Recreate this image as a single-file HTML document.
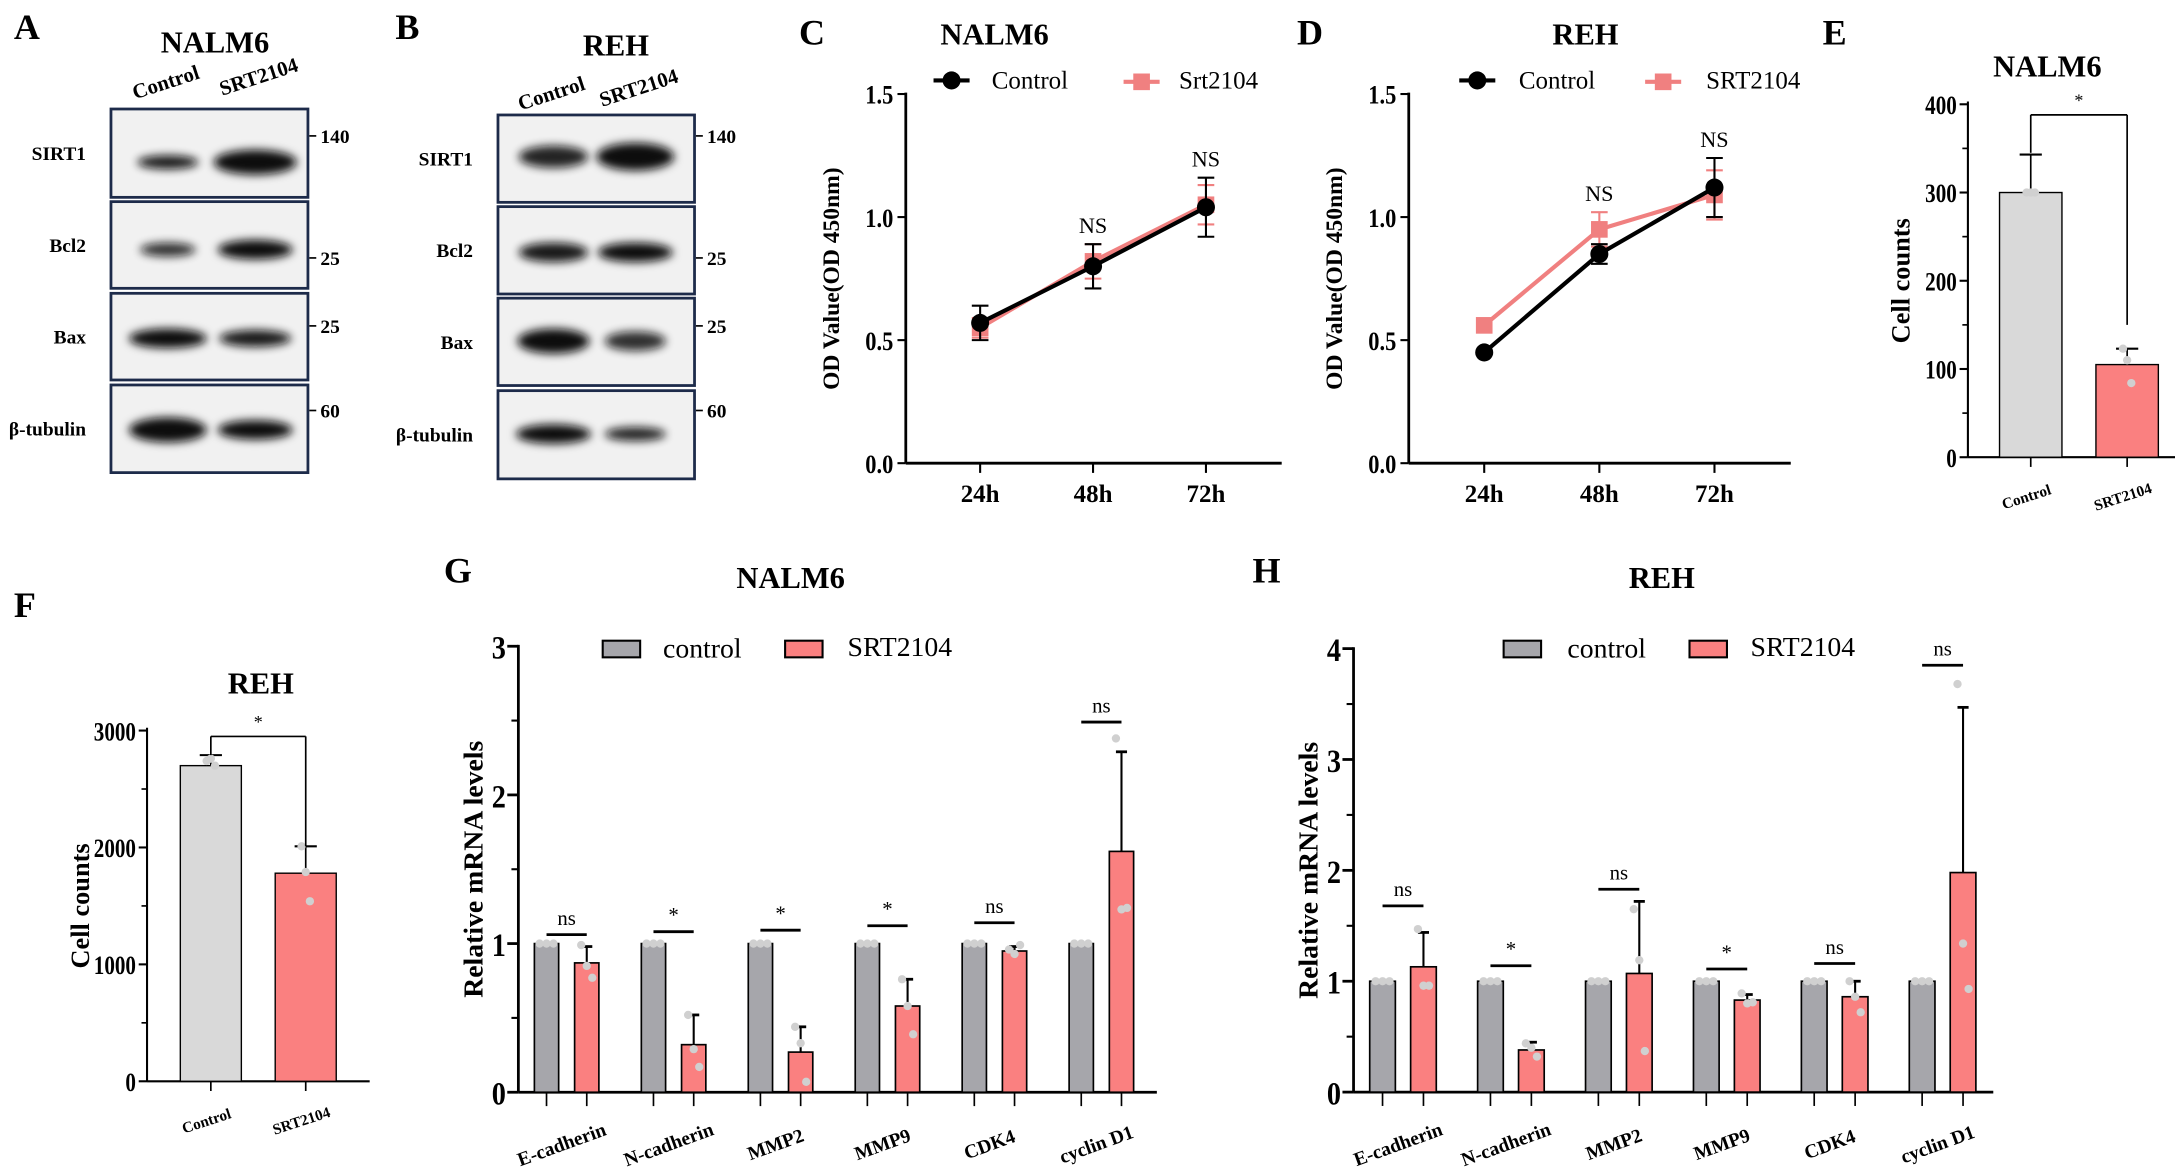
<!DOCTYPE html>
<html><head><meta charset="utf-8">
<style>
html,body{margin:0;padding:0;background:#fff;}
svg{display:block;}
text{font-family:"Liberation Serif",serif;}
</style></head>
<body>
<svg id="fig" width="2175" height="1176" viewBox="0 0 1568 848" preserveAspectRatio="none" xmlns="http://www.w3.org/2000/svg">
<defs>
<filter id="blur" x="-50%" y="-100%" width="200%" height="300%"><feGaussianBlur stdDeviation="3.2"/></filter>
</defs>
</svg>
<script>
// ---------- data ----------
const timeCats = ['24h','48h','72h'];
const cNalmControl = [0.57, 0.80, 1.04];
const cNalmControlErr = [0.07, 0.09, 0.12];
const cNalmSrt = [0.55, 0.82, 1.05];
const cNalmSrtErr = [0.04, 0.07, 0.08];
const dRehControl = [0.45, 0.85, 1.12];
const dRehControlErr = [0.0, 0.04, 0.12];
const dRehSrt = [0.56, 0.95, 1.09];
const dRehSrtErr = [0.0, 0.07, 0.10];
const odTicks = [0, 0.5, 1.0, 1.5];
const odTickLabels = ['0.0','0.5','1.0','1.5'];

const countCats = ['Control','SRT2104'];
const eNalmCounts = [300, 105];
const eNalmErrTop = [343, 123];
const eNalmDots = [[300, 300, 300],[123, 110, 84]];
const eTicks = [0,100,200,300,400];
const fRehCounts = [2700, 1780];
const fRehErrTop = [2790, 2010];
const fRehDots = [[2740, 2760, 2700],[2010, 1790, 1540]];
const fTicks = [0,1000,2000,3000];

const genes = ['E-cadherin','N-cadherin','MMP2','MMP9','CDK4','cyclin D1'];
const gControl = [1,1,1,1,1,1];
const gSrt = [0.87, 0.32, 0.27, 0.58, 0.95, 1.62];
const gSrtErrTop = [0.98, 0.52, 0.44, 0.76, 0.98, 2.29];
const gSrtDots = [[0.99,0.85,0.77],[0.52,0.29,0.17],[0.44,0.33,0.07],[0.76,0.58,0.39],[0.96,0.93,0.99],[2.38,1.23,1.24]];
const gSig = ['ns','*','*','*','ns','ns'];
const gSigLevel = [1.06,1.08,1.09,1.12,1.14,2.49];
const gTicks = [0,1,2,3];
const hControl = [1,1,1,1,1,1];
const hSrt = [1.13, 0.38, 1.07, 0.83, 0.86, 1.98];
const hSrtErrTop = [1.44, 0.45, 1.72, 0.88, 1.0, 3.47];
const hSrtDots = [[1.47,0.96,0.96],[0.44,0.40,0.32],[1.65,1.19,0.37],[0.89,0.80,0.81],[1.0,0.86,0.72],[3.68,1.34,0.93]];
const hSig = ['ns','*','ns','*','ns','ns'];
const hSigLevel = [1.68,1.14,1.83,1.11,1.16,3.85];
const hTicks = [0,1,2,3,4];

// ---------- helpers ----------
const svg = document.getElementById('fig');
const NS = 'http://www.w3.org/2000/svg';
function mk(tag, attrs, name, parent){
  const el = document.createElementNS(NS, tag);
  for (const k in attrs) el.setAttribute(k, attrs[k]);
  
  
  (parent || svg).appendChild(el);
  return el;
}
function txt(x, y, s, size, name, opts){
  opts = opts || {};
  const a = {x:x, y:y, 'font-size':size, 'text-anchor':opts.anchor||'middle', fill:opts.fill||'#000'};
  if (opts.bold !== false) a['font-weight'] = 'bold';
  if (opts.rot !== undefined) a.transform = 'rotate(' + opts.rot + ' ' + x + ' ' + y + ')';
  if (opts.family) a['font-family'] = opts.family;
  if (opts.sx) a.transform = (a.transform||'') + ' translate(' + x + ' ' + y + ') scale(' + opts.sx + ' 1) translate(' + (-x) + ' ' + (-y) + ')';
  const t = mk('text', a, name);
  t.textContent = s;
  return t;
}
function line(x1,y1,x2,y2,name,stroke,w){
  return mk('line',{x1:x1,y1:y1,x2:x2,y2:y2,stroke:stroke||'#000','stroke-width':w||1.5},name);
}

// ---------- panel letters ----------
[['A',10,28],['B',285,28],['C',576,32],['D',935,32],['E',1314,32],['F',10,445],['G',320,420],['H',903,420]].forEach(p=>{
  txt(p[1],p[2],p[0],26,'panel-label-'+p[0].toLowerCase(),{anchor:'start'});
});

// ---------- Western blots ----------
function blot(cfg){
  txt(cfg.titleX, cfg.titleY, cfg.title, 22, cfg.id+'-title');
  txt(cfg.lane1, cfg.laneY, 'Control', 15, cfg.id+'-lane-control', {rot:-18});
  txt(cfg.lane2+4, cfg.laneY-4, 'SRT2104', 15, cfg.id+'-lane-srt2104', {rot:-18});
  cfg.rows.forEach((r,i)=>{
    const g = mk('g',{},cfg.id+'-blot-'+r.name.replace(/[^a-z0-9]/gi,'').toLowerCase());
    mk('rect',{x:cfg.x0,y:r.y0,width:cfg.x1-cfg.x0,height:r.y1-r.y0,fill:'#f1f1f1',stroke:'#1d2b4a','stroke-width':2},'blot-frame',g);
    const cy = r.band;
    [[cfg.lane1,r.w1,r.h1,r.o1],[cfg.lane2,r.w2,r.h2,r.o2]].forEach((b,j)=>{
      mk('ellipse',{cx:b[0],cy:cy,rx:b[1],ry:b[2],fill:'#111',opacity:b[3],filter:'url(#blur)'},'band-lane-'+(j+1),g);
    });
    txt(cfg.x0-18, (r.y0+r.y1)/2+5, r.name, 14, cfg.id+'-label-'+i, {anchor:'end'});
    if (r.mw){
      line(cfg.x1+1, r.mwY, cfg.x1+6, r.mwY, 'mw-tick', '#000', 1.2);
      txt(cfg.x1+9, r.mwY+5, r.mw, 14, cfg.id+'-mw-'+i, {anchor:'start'});
    }
  });
}
blot({id:'nalm6-wb', title:'NALM6', titleX:155, titleY:38, lane1:121, lane2:184, laneY:64, x0:80, x1:222,
  rows:[
    {name:'SIRT1', y0:78.6, y1:142.3, band:117, w1:22,h1:5,o1:0.95, w2:30,h2:9,o2:1, mw:'140', mwY:98},
    {name:'Bcl2', y0:145.4, y1:207.9, band:180, w1:20,h1:5,o1:0.85, w2:27,h2:7,o2:1, mw:'25', mwY:186},
    {name:'Bax', y0:211.5, y1:274, band:244, w1:28,h1:7,o1:1, w2:26,h2:6,o2:0.95, mw:'25', mwY:235},
    {name:'β-tubulin', y0:277.6, y1:340.8, band:310, w1:28,h1:9,o1:1, w2:27,h2:7,o2:1, mw:'60', mwY:296}
  ]});
blot({id:'reh-wb', title:'REH', titleX:444, titleY:40, lane1:399, lane2:458, laneY:72, x0:359, x1:500.7,
  rows:[
    {name:'SIRT1', y0:82.9, y1:145.9, band:113, w1:25,h1:8,o1:0.9, w2:28,h2:10,o2:1, mw:'140', mwY:98},
    {name:'Bcl2', y0:149, y1:212, band:182, w1:25,h1:7,o1:0.95, w2:27,h2:7,o2:1, mw:'25', mwY:186},
    {name:'Bax', y0:215, y1:278, band:246, w1:26,h1:9,o1:1, w2:22,h2:7,o2:0.85, mw:'25', mwY:235},
    {name:'β-tubulin', y0:281.7, y1:345.3, band:313, w1:27,h1:7,o1:1, w2:22,h2:5,o2:0.9, mw:'60', mwY:296}
  ]});

// ---------- Line charts C/D ----------
function lineChart(cfg){
  const yPix = v => cfg.yb - (v/1.5)*(cfg.yb-cfg.yt);
  const xPix = i => cfg.xc[0] + i*(cfg.xc[1]-cfg.xc[0]);
  txt(cfg.titleX, 32, cfg.title, 22, cfg.id+'-title');
  line(cfg.ax, cfg.yt-1, cfg.ax, cfg.yb, cfg.id+'-y-axis','#000',2);
  line(cfg.ax, cfg.yb, cfg.axEnd, cfg.yb, cfg.id+'-x-axis','#000',2);
  odTicks.forEach((t,i)=>{
    const y = yPix(t);
    line(cfg.ax-6, y, cfg.ax, y, 'y-tick','#000',1.5);
    txt(cfg.ax-9, y+7, odTickLabels[i], 19, cfg.id+'-y-tick-label', {anchor:'end', sx:0.85});
  });
  timeCats.forEach((c,i)=>{
    const x = xPix(i);
    line(x, cfg.yb, x, cfg.yb+7, 'x-tick','#000',1.5);
    txt(x, cfg.yb+28, c, 18, cfg.id+'-x-label-'+c);
  });
  txt(cfg.ax-48, (cfg.yt+cfg.yb)/2, 'OD Value(OD 450nm)', 17, cfg.id+'-y-axis-title', {rot:-90});
  const series = [
    {vals:cfg.srt, err:cfg.srtErr, col:'#f08080', name:'srt2104'},
    {vals:cfg.ctl, err:cfg.ctlErr, col:'#000', name:'control'}
  ];
  series.forEach(s=>{
    const pts = s.vals.map((v,i)=>xPix(i)+','+yPix(v)).join(' ');
    mk('polyline',{points:pts,fill:'none',stroke:s.col,'stroke-width':3},cfg.id+'-line-'+s.name);
    s.vals.forEach((v,i)=>{
      const x = xPix(i);
      if (s.err[i] > 0){
        line(x, yPix(v+s.err[i]), x, yPix(v-s.err[i]), cfg.id+'-errbar-'+s.name, s.col, 1.5);
        line(x-6, yPix(v+s.err[i]), x+6, yPix(v+s.err[i]), cfg.id+'-errcap-'+s.name, s.col, 1.5);
        line(x-6, yPix(v-s.err[i]), x+6, yPix(v-s.err[i]), cfg.id+'-errcap-'+s.name, s.col, 1.5);
      }
      if (s.name === 'control') mk('circle',{cx:x,cy:yPix(v),r:6.5,fill:'#000'},cfg.id+'-point-control');
      else mk('rect',{x:x-6,y:yPix(v)-6,width:12,height:12,fill:'#f08080'},cfg.id+'-point-srt2104');
    });
  });
  cfg.ns.forEach(i=>{
    const top = Math.max(cfg.ctl[i]+cfg.ctlErr[i], cfg.srt[i]+cfg.srtErr[i]);
    txt(xPix(i), yPix(top)-8, 'NS', 16, cfg.id+'-ns-label', {bold:false});
  });
  line(cfg.lg[0]-13, 58, cfg.lg[0]+13, 58, cfg.id+'-legend-control-line','#000',3);
  mk('circle',{cx:cfg.lg[0],cy:58,r:6.5,fill:'#000'},cfg.id+'-legend-control-marker');
  txt(cfg.lg[1], 64, 'Control', 18, cfg.id+'-legend-control-text', {anchor:'start', bold:false});
  line(cfg.lg[2]-13, 59, cfg.lg[2]+13, 59, cfg.id+'-legend-srt-line','#f08080',3);
  mk('rect',{x:cfg.lg[2]-6,y:53,width:12,height:12,fill:'#f08080'},cfg.id+'-legend-srt-marker');
  txt(cfg.lg[3], 64, cfg.srtLabel, 18, cfg.id+'-legend-srt-text', {anchor:'start', bold:false});
}
lineChart({id:'c-nalm6', title:'NALM6', titleX:717, ax:653, axEnd:924, yt:67.8, yb:334, xc:[706.6,788],
  ctl:cNalmControl, ctlErr:cNalmControlErr, srt:cNalmSrt, srtErr:cNalmSrtErr, ns:[1,2],
  lg:[686,715,823,850], srtLabel:'Srt2104'});
lineChart({id:'d-reh', title:'REH', titleX:1143, ax:1015.6, axEnd:1291, yt:67.8, yb:334, xc:[1070,1153],
  ctl:dRehControl, ctlErr:dRehControlErr, srt:dRehSrt, srtErr:dRehSrtErr, ns:[1,2],
  lg:[1065,1095,1199,1230], srtLabel:'SRT2104'});

// ---------- Cell count bars E/F ----------
function countChart(cfg){
  const yPix = v => cfg.yb - (v/cfg.max)*(cfg.yb-cfg.yt);
  txt(cfg.titleX, cfg.titleY, cfg.title, 22, cfg.id+'-title');
  line(cfg.ax, cfg.yt-2, cfg.ax, cfg.yb, cfg.id+'-y-axis','#000',1.5);
  line(cfg.ax, cfg.yb, cfg.axEnd, cfg.yb, cfg.id+'-x-axis','#000',1.5);
  cfg.ticks.forEach((t,i)=>{
    const y = yPix(t);
    line(cfg.ax-6, y, cfg.ax, y, 'y-tick','#000',1.5);
    txt(cfg.ax-8, y+7, String(t), 19, cfg.id+'-y-tick-label', {anchor:'end', family:'"Liberation Sans",sans-serif', sx:0.8});
    if (i < cfg.ticks.length-1){ const ym = yPix(t + (cfg.ticks[1]-cfg.ticks[0])/2); line(cfg.ax-4, ym, cfg.ax, ym, 'y-minor-tick','#000',1.2); }
  });
  txt(cfg.ax-42, (cfg.yt+cfg.yb)/2, 'Cell counts', 19, cfg.id+'-y-axis-title', {rot:-90, family:'"Liberation Sans",sans-serif'});
  const cols = ['#d9d9d9','#fa8080'];
  cfg.vals.forEach((v,i)=>{
    const cx = cfg.xc[i];
    mk('rect',{x:cx-cfg.bw/2,y:yPix(v),width:cfg.bw,height:cfg.yb-yPix(v),fill:cols[i],stroke:'#000','stroke-width':1},cfg.id+'-bar-'+countCats[i].toLowerCase());
    line(cx, yPix(v), cx, yPix(cfg.err[i]), cfg.id+'-errbar','#000',1.2);
    line(cx-8, yPix(cfg.err[i]), cx+8, yPix(cfg.err[i]), cfg.id+'-errcap','#000',1.5);
    cfg.dots[i].forEach((d,k)=>mk('circle',{cx:cx+(k-1)*3,cy:yPix(d),r:3,fill:'#d0d0d0'},cfg.id+'-dot'));
    line(cx, cfg.yb, cx, cfg.yb+7, 'x-tick','#000',1.2);
    txt(cx-2, cfg.yb+32, countCats[i], 11, cfg.id+'-x-label-'+countCats[i].toLowerCase(), {rot:-18});
  });
  const by = yPix(cfg.bracket);
  line(cfg.xc[0], by, cfg.xc[1], by, cfg.id+'-sig-bracket','#000',1.2);
  line(cfg.xc[0], by, cfg.xc[0], yPix(cfg.legL), cfg.id+'-sig-bracket-left','#000',1.2);
  line(cfg.xc[1], by, cfg.xc[1], yPix(cfg.legR), cfg.id+'-sig-bracket-right','#000',1.2);
  txt((cfg.xc[0]+cfg.xc[1])/2, by-6, '*', 13, cfg.id+'-sig-star', {bold:false});
}
countChart({id:'e-nalm6', title:'NALM6', titleX:1476, titleY:55, ax:1418.7, axEnd:1568, yt:75.2, yb:329.7, max:400,
  ticks:eTicks, vals:eNalmCounts, err:eNalmErrTop, dots:eNalmDots, xc:[1464,1533.5], bw:45, bracket:388, legL:345, legR:150});
countChart({id:'f-reh', title:'REH', titleX:188, titleY:500, ax:106, axEnd:266.5, yt:526.8, yb:779.7, max:3000,
  ticks:fTicks, vals:fRehCounts, err:fRehErrTop, dots:fRehDots, xc:[152,220.4], bw:44, bracket:2950, legL:2790, legR:2010});

// ---------- Gene bar charts G/H ----------
function geneChart(cfg){
  const yPix = v => cfg.yb - (v/cfg.max)*(cfg.yb-cfg.yt);
  txt(cfg.titleX, 424, cfg.title, 22, cfg.id+'-title');
  line(cfg.ax, cfg.yt-1, cfg.ax, cfg.yb, cfg.id+'-y-axis','#000',2);
  line(cfg.ax, cfg.yb, cfg.axEnd, cfg.yb, cfg.id+'-x-axis','#000',2);
  cfg.ticks.forEach((t,i)=>{
    const y = yPix(t);
    line(cfg.ax-8, y, cfg.ax, y, 'y-tick','#000',2);
    txt(cfg.ax-9, y+9, String(t), 24, cfg.id+'-y-tick-label', {anchor:'end', family:'"Liberation Sans",sans-serif', sx:0.85});
    if (i < cfg.ticks.length-1){ const ym = yPix(t+0.5); line(cfg.ax-5, ym, cfg.ax, ym, 'y-minor-tick','#000',1.5); }
  });
  txt(cfg.ax-26, (cfg.yt+cfg.yb)/2, 'Relative mRNA levels', 20, cfg.id+'-y-axis-title', {rot:-90, family:'"Liberation Sans",sans-serif'});
  genes.forEach((g,i)=>{
    const xc = cfg.c0 + i*cfg.sp, xs = xc + cfg.gap;
    mk('rect',{x:xc-cfg.bw/2,y:yPix(cfg.ctl[i]),width:cfg.bw,height:cfg.yb-yPix(cfg.ctl[i]),fill:'#a6a6ab',stroke:'#000','stroke-width':1.2},cfg.id+'-bar-control-'+i);
    mk('rect',{x:xs-cfg.bw/2,y:yPix(cfg.srt[i]),width:cfg.bw,height:cfg.yb-yPix(cfg.srt[i]),fill:'#fa8080',stroke:'#000','stroke-width':1.2},cfg.id+'-bar-srt2104-'+i);
    line(xs, yPix(cfg.srt[i]), xs, yPix(cfg.err[i]), cfg.id+'-errbar','#000',1.5);
    line(xs-4, yPix(cfg.err[i]), xs+4, yPix(cfg.err[i]), cfg.id+'-errcap','#000',2);
    [-5,0,5].forEach(dx=>mk('circle',{cx:xc+dx,cy:yPix(cfg.ctl[i]),r:3,fill:'#d0d0d0'},cfg.id+'-dot-control'));
    cfg.dots[i].forEach((d,k)=>mk('circle',{cx:xs+(k-1)*4,cy:yPix(d),r:3,fill:'#d0d0d0'},cfg.id+'-dot-srt2104'));
    line(xc, cfg.yb, xc, cfg.yb+10, 'x-tick','#000',1.2);
    line(xs, cfg.yb, xs, cfg.yb+10, 'x-tick','#000',1.2);
    txt((xc+xs)/2-2, cfg.yb+42, g, 14, cfg.id+'-x-label-'+i, {rot:-20});
    const sy = yPix(cfg.sigL[i]);
    line(xc, sy, xs, sy, cfg.id+'-sig-line','#000',2);
    txt((xc+xs)/2, sy-7, cfg.sig[i], 15, cfg.id+'-sig-label', {bold:false});
  });
  mk('rect',{x:cfg.lg[0],y:462,width:27,height:12,fill:'#a6a6ab',stroke:'#000','stroke-width':1.5},cfg.id+'-legend-control-swatch');
  txt(cfg.lg[1], 474, 'control', 20, cfg.id+'-legend-control-text', {anchor:'start', bold:false});
  mk('rect',{x:cfg.lg[2],y:462,width:27,height:12,fill:'#fa8080',stroke:'#000','stroke-width':1.5},cfg.id+'-legend-srt-swatch');
  txt(cfg.lg[3], 473, 'SRT2104', 20, cfg.id+'-legend-srt-text', {anchor:'start', bold:false});
}
geneChart({id:'g-nalm6', title:'NALM6', titleX:570, ax:373.7, axEnd:834, yt:466, yb:787.6, max:3, ticks:gTicks,
  c0:394, sp:77.1, gap:29, bw:17.5, ctl:gControl, srt:gSrt, err:gSrtErrTop, dots:gSrtDots, sig:gSig, sigL:gSigLevel,
  lg:[434.5,478,566,611]});
geneChart({id:'h-reh', title:'REH', titleX:1198, ax:975.8, axEnd:1437, yt:467.7, yb:787.5, max:4, ticks:hTicks,
  c0:996.7, sp:77.8, gap:29.5, bw:18.5, ctl:hControl, srt:hSrt, err:hSrtErrTop, dots:hSrtDots, sig:hSig, sigL:hSigLevel,
  lg:[1084,1130,1218,1262]});
</script>
</body></html>
